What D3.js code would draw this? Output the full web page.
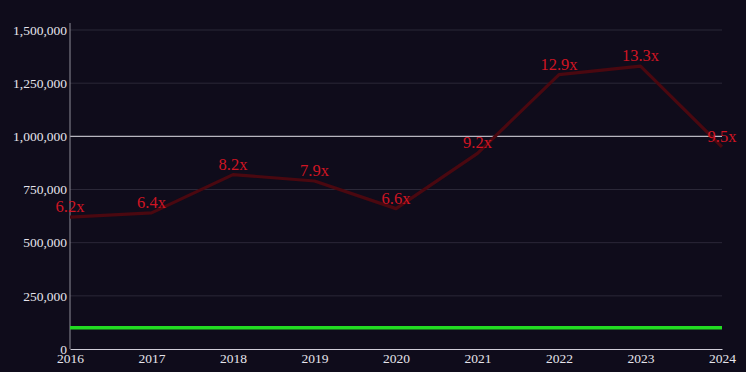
<!DOCTYPE html>
<html><head><meta charset="utf-8">
<script src="https://cdn.jsdelivr.net/npm/d3@7"></script>
<style>
html,body{margin:0;padding:0;background:#0f0c1b;}
svg{display:block;}
</style></head>
<body><svg id="c" width="746" height="372"></svg>
<script>
const years = [2016, 2017, 2018, 2019, 2020, 2021, 2022, 2023, 2024];
const values = [620000, 640000, 820000, 790000, 660000, 920000, 1290000, 1330000, 950000];
const labels = ["6.2x", "6.4x", "8.2x", "7.9x", "6.6x", "9.2x", "12.9x", "13.3x", "9.5x"];
const baseline = 100000;
const refLine = 1000000;
const yTicks = [0, 250000, 500000, 750000, 1000000, 1250000, 1500000];

const W = 746, H = 372;
const m = {left: 70, right: 24, top: 30, bottom: 23};
const svg = d3.select("#c");
const font = "'Liberation Serif', serif";

const x = d3.scaleLinear().domain([2016, 2024]).range([m.left, W - m.right]);
const y = d3.scaleLinear().domain([0, 1500000]).range([H - m.bottom, m.top]);

// grid
svg.append("g").selectAll("line").data(yTicks.filter(d => d > 0 && d !== refLine)).join("line")
  .attr("x1", m.left).attr("x2", W - m.right)
  .attr("y1", d => y(d)).attr("y2", d => y(d))
  .attr("stroke", "#2b2838").attr("stroke-width", 1);

// reference line at 1,000,000
svg.append("line").attr("x1", m.left).attr("x2", W - m.right)
  .attr("y1", y(refLine)).attr("y2", y(refLine))
  .attr("stroke", "#b8b6c0").attr("stroke-width", 1.2);

// y axis
const yAxis = svg.append("g").attr("transform", `translate(${m.left},0)`)
  .call(d3.axisLeft(y).tickValues(yTicks).tickSize(0).tickPadding(3).tickFormat(d3.format(",")));
yAxis.select(".domain").attr("stroke", "#8e8c98").attr("d", `M0,${m.top - 7}V${y(0)}`);
yAxis.selectAll("text").attr("fill", "#e6e4ec").style("font-family", font).style("font-size", "13.5px");

// x axis
const xAxis = svg.append("g").attr("transform", `translate(0,${y(0)})`)
  .call(d3.axisBottom(x).tickValues(years).tickSize(0).tickPadding(4).tickFormat(d3.format("d")));
xAxis.select(".domain").attr("stroke", "#d0ced8").attr("stroke-width", 1.2);
xAxis.selectAll("text").attr("fill", "#e6e4ec").style("font-family", font).style("font-size", "13.5px");

// baseline green
svg.append("line").attr("x1", x(2016)).attr("x2", x(2024))
  .attr("y1", y(baseline)).attr("y2", y(baseline))
  .attr("stroke", "#22dd22").attr("stroke-width", 3.5);

// main line
const data = years.map((yr, i) => ({yr, v: values[i], l: labels[i]}));
svg.append("path").datum(data)
  .attr("fill", "none").attr("stroke", "#4a0810").attr("stroke-width", 3.2)
  .attr("stroke-linejoin", "round")
  .attr("d", d3.line().x(d => x(d.yr)).y(d => y(d.v)));

svg.append("g").selectAll("text").data(data).join("text")
  .attr("x", d => x(d.yr)).attr("y", d => y(d.v) - 5)
  .attr("text-anchor", "middle")
  .attr("fill", "#d01523")
  .style("font-family", font).style("font-size", "16.5px")
  .text(d => d.l);
</script></body></html>
